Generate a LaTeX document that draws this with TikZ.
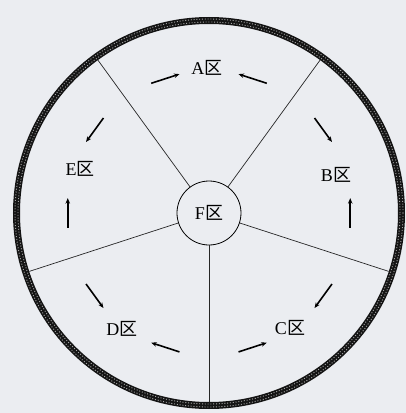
\documentclass[tikz,border=0pt]{standalone}
\usepackage{fontspec}
\setmainfont{Liberation Serif}
\newfontfamily\cjk{Noto Sans CJK SC}
\usetikzlibrary{arrows.meta}
\definecolor{bg}{RGB}{235,237,241}
\begin{document}
\begin{tikzpicture}[x=1pt,y=1pt,
  lab/.style={font=\fontsize{18}{21}\selectfont, inner sep=0pt},
  spoke/.style={line width=0.7pt, black!85},
  flow/.style={line width=1.6pt, -{Stealth[length=5.5pt,width=4.5pt]}},
  ring/.style={line width=7pt, black!92},
  ringdots/.style={line width=0.9pt, gray!70, dash pattern=on 1pt off 1.8pt}]
\fill[bg] (-209,-200) rectangle (197,213);
\useasboundingbox (-209,-200) rectangle (197,213);
% outer ring
\draw[ring] (0,0) circle[radius=192.5];
\draw[ringdots] (0,0) circle[radius=191];
\draw[ringdots] (0,0) circle[radius=194];
% centre zone
\node[circle, draw, line width=0.8pt, minimum size=64pt, lab] (F) at (0,0) {F\cjk 区};
% spokes
\foreach \a/\n in {-90/s1,-18/s2,54/s3,126/s4,198/s5}{
  \coordinate (\n) at (\a:189);
  \draw[spoke] (F.\a) -- (\n);
}
% zone labels
\node[lab] (A) at (-2,145) {A\cjk 区};
\node[lab] (B) at (127,38) {B\cjk 区};
\node[lab] (C) at (81,-115) {C\cjk 区};
\node[lab] (D) at (-87,-116) {D\cjk 区};
\node[lab] (E) at (-129,44) {E\cjk 区};
% flow arrows toward each zone label
\foreach \t/\k in {90/a,18/b,-54/c,-126/d,162/e}{
  \coordinate (\k p1) at ({\t+24}:142);
  \coordinate (\k p2) at ({\t+12}:142);
  \coordinate (\k m1) at ({\t-24}:142);
  \coordinate (\k m2) at ({\t-12}:142);
  \draw[flow] (\k p1) -- (\k p2);
  \draw[flow] (\k m1) -- (\k m2);
}
\end{tikzpicture}
\end{document}
